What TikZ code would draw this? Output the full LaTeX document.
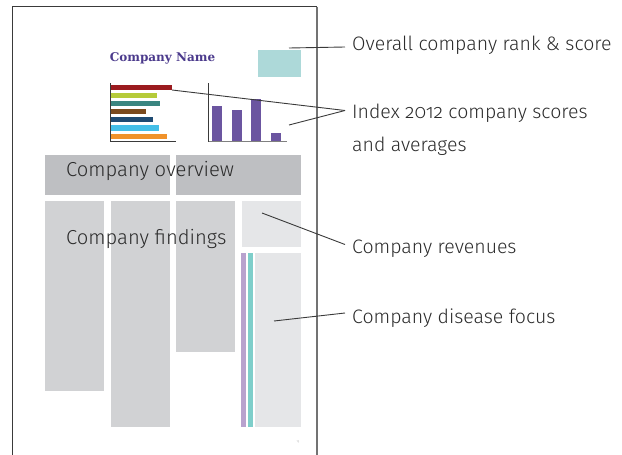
\documentclass[tikz,border=0pt]{standalone}
\usepackage{fontspec}
\setmainfont[Numbers=OldStyle]{Fira Sans Light}
\newfontfamily\slabfont{DejaVu Serif}
\usetikzlibrary{positioning}
\definecolor{framec}{HTML}{3A3A3A}
\definecolor{namec}{HTML}{4B3A8C}
\definecolor{rankc}{HTML}{ADD9D9}
\definecolor{darkbox}{HTML}{BEBFC2}
\definecolor{midbox}{HTML}{D1D2D4}
\definecolor{lightbox}{HTML}{E5E6E8}
\definecolor{stripp}{HTML}{B8A2CE}
\definecolor{stript}{HTML}{7ECECA}
\definecolor{colbar}{HTML}{6B55A0}
\definecolor{hb1}{HTML}{9B1B1F}
\definecolor{hb2}{HTML}{B5CB3A}
\definecolor{hb3}{HTML}{3A8580}
\definecolor{hb4}{HTML}{7A4A1E}
\definecolor{hb5}{HTML}{1E4A72}
\definecolor{hb6}{HTML}{44BFE8}
\definecolor{hb7}{HTML}{F0922A}
\definecolor{textc}{HTML}{2B2B2B}
\tikzset{
  blk/.style={anchor=north west, inner sep=0pt, outer sep=0pt, draw=none},
  leader/.style={draw=framec, line width=0.9pt},
  axisl/.style={draw=framec, line width=1pt},
  lbl/.style={anchor=west, inner sep=0pt, text=textc, font=\fontsize{19.5}{23}\selectfont},
  inlbl/.style={anchor=west, inner sep=0pt, text=textc, font=\fontsize{20.2}{23}\selectfont},
}
\newcommand{\blk}[6]{\node[blk, fill=#6, minimum width=#4pt, minimum height=#5pt] (#1) at (#2,#3) {};}
\begin{document}
\begin{tikzpicture}[x=1pt,y=-1pt]
\useasboundingbox (0,0) rectangle (622,455);
% page frame
\coordinate (pbl) at (12.5,455);
\coordinate (ptl) at (12.5,6.5);
\coordinate (ptr) at (317,6.5);
\coordinate (pbr) at (317,455);
\draw[framec, line width=1.3pt] (pbl) -- (ptl) -- (ptr);
\draw[black!55, line width=1.5pt] (ptr) -- (pbr);
% title
\node[inner sep=0pt, text=namec, font=\slabfont\bfseries\fontsize{12}{14}\selectfont] (cname) at (162.5,58) {Company Name};
\blk{rank}{258}{50}{43}{26.7}{rankc}
% horizontal bar chart
\blk{b1}{110.5}{85}{61.5}{5.2}{hb1}
\blk{b2}{110.5}{92.8}{46.5}{5.2}{hb2}
\blk{b3}{110.5}{100.8}{49.5}{5.2}{hb3}
\blk{b4}{110.5}{108.8}{35.5}{5.2}{hb4}
\blk{b5}{110.5}{116.8}{42.5}{5.2}{hb5}
\blk{b6}{110.5}{125.3}{48.5}{5.2}{hb6}
\blk{b7}{110.5}{133.5}{56.5}{5.2}{hb7}
\coordinate (hax0) at (110.5,83);
\coordinate (hax1) at (110.5,141.5);
\coordinate (hax2) at (176,141.5);
\draw[axisl] (hax0) -- (hax1) -- (hax2);
% column chart
\blk{c1}{212}{106}{10}{35.5}{colbar}
\blk{c2}{232}{110}{10}{31.5}{colbar}
\blk{c3}{251}{99}{10}{42.5}{colbar}
\blk{c4}{271}{133}{10}{8.5}{colbar}
\coordinate (vax0) at (208.7,83);
\coordinate (vax1) at (208.7,141.5);
\coordinate (vax2) at (287,141.5);
\draw[axisl] (vax0) -- (vax1);
\draw[black!50, line width=1.3pt] (vax1) -- (vax2);
% overview
\blk{ov1}{45}{155}{125}{39.7}{darkbox}
\blk{ov2}{176}{155}{125}{39.7}{darkbox}
\node[inlbl] (ovt) at (66,171) {Company overview};
% findings
\blk{f1}{45}{201}{59}{189.7}{midbox}
\blk{f2}{111}{201}{59}{225.7}{midbox}
\blk{f3}{176}{201}{59}{150.7}{midbox}
\node[inlbl] (fit) at (66,238.5) {Company findings};
\blk{rev}{242}{201}{59}{45.7}{lightbox}
\blk{sp}{241}{253}{5}{173.7}{stripp}
\blk{st}{248}{253}{5}{173.7}{stript}
\blk{dis}{255}{253}{46}{173.7}{lightbox}
\node[inner sep=0pt, text=black!50, font=\fontsize{3}{3}\selectfont] (pg) at (298,442) {13};
% labels
\node[lbl] (l1) at (352,45.5) {Overall company rank \& score};
\node[lbl] (l2) at (352,113) {Index 2012 company scores};
\node[lbl] (l2b) at (352,146.5) {and averages};
\node[lbl] (l3) at (352,248.5) {Company revenues};
\node[lbl] (l4) at (352,318) {Company disease focus};
% leader endpoints
\coordinate (s1) at (289,48);
\coordinate (e1) at (345,47);
\coordinate (s2) at (172,90);
\coordinate (s2b) at (289,125);
\coordinate (e2) at (345,110.5);
\coordinate (s3) at (262,213);
\coordinate (e3) at (345,244.5);
\coordinate (s4) at (274,321);
\coordinate (e4) at (345,313);
\draw[leader] (s1) -- (e1);
\draw[leader] (s2) -- (e2);
\draw[leader] (s2b) -- (e2);
\draw[leader] (s3) -- (e3);
\draw[leader] (s4) -- (e4);
\end{tikzpicture}
\end{document}
